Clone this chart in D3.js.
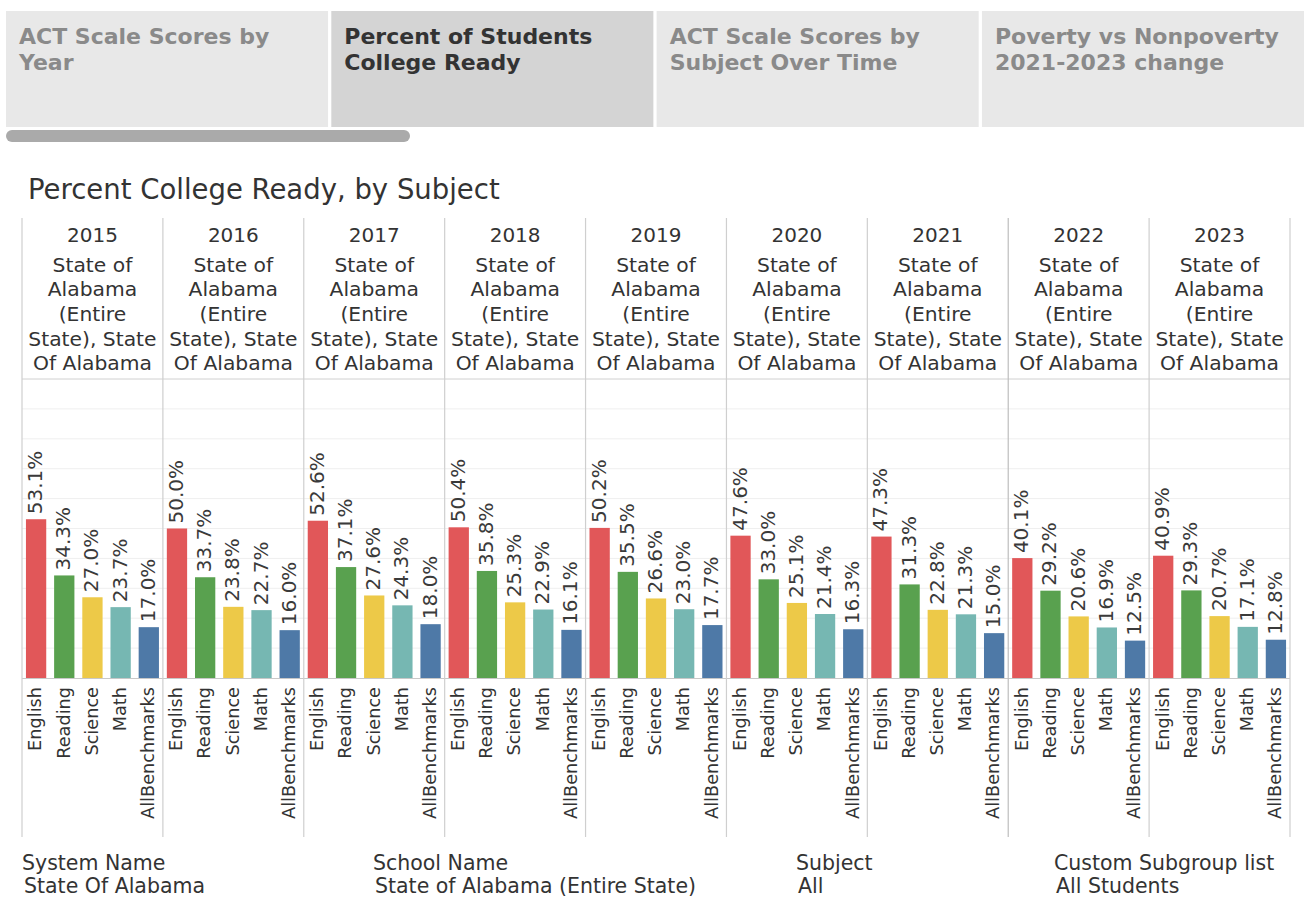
<!DOCTYPE html>
<html>
<head>
<meta charset="utf-8">
<script src="https://cdn.jsdelivr.net/npm/d3@7"></script>
<style>
  html, body { margin: 0; padding: 0; background: #fff; }
  svg { display: block; font-family: "DejaVu Sans", sans-serif; }
</style>
</head>
<body>
<svg id="chart" width="1307" height="899"></svg>
<script>
// ---- data ----
const tabs = ["ACT Scale Scores by\nYear", "Percent of Students\nCollege Ready", "ACT Scale Scores by\nSubject Over Time", "Poverty vs Nonpoverty\n2021-2023 change"];
const activeTab = 1;
const years = ["2015", "2016", "2017", "2018", "2019", "2020", "2021", "2022", "2023"];
const headerLines = ["State of", "Alabama", "(Entire", "State), State", "Of Alabama"];
const subjects = ["English", "Reading", "Science", "Math", "AllBenchmarks"];
const colors = ["#e15759", "#59a14f", "#edc948", "#76b7b2", "#4e79a7"];
const english = [53.1, 50.0, 52.6, 50.4, 50.2, 47.6, 47.3, 40.1, 40.9];
const reading = [34.3, 33.7, 37.1, 35.8, 35.5, 33.0, 31.3, 29.2, 29.3];
const science = [27.0, 23.8, 27.6, 25.3, 26.6, 25.1, 22.8, 20.6, 20.7];
const math = [23.7, 22.7, 24.3, 22.9, 23.0, 21.4, 21.3, 16.9, 17.1];
const allBenchmarks = [17.0, 16.0, 18.0, 16.1, 17.7, 16.3, 15.0, 12.5, 12.8];
const gridTicks = [10, 20, 30, 40, 50, 60, 70, 80, 90];
const filters = [
  ["System Name", "State Of Alabama"],
  ["School Name", "State of Alabama (Entire State)"],
  ["Subject", "All"],
  ["Custom Subgroup list", "All Students"]
];
const title = "Percent College Ready, by Subject";

const series = [english, reading, science, math, allBenchmarks];
const data = [];
years.forEach((y, i) => subjects.forEach((s, j) => data.push({year: y, subject: s, value: series[j][i]})));

// ---- layout ----
const svg = d3.select("#chart");
const left = 22, right = 1290;
const headerTop = 218, plotTop = 379, plotBottom = 678, labelBottom = 837;

// tabs
const tabX = d3.scaleBand().domain(d3.range(tabs.length)).range([6, 6 + 4 * 324.5]).paddingInner(0.01);
const tabG = svg.append("g");
tabs.forEach((t, i) => {
  const g = tabG.append("g").attr("transform", `translate(${tabX(i)},11)`);
  g.append("rect").attr("width", tabX.bandwidth()).attr("height", 116)
    .attr("fill", i === activeTab ? "#d4d4d4" : "#e8e8e8");
  const txt = g.append("text").attr("x", 13).attr("y", 33)
    .attr("font-size", 22).attr("font-weight", "bold")
    .attr("fill", i === activeTab ? "#333" : "#8a8a8a");
  t.split("\n").forEach((line, k) => {
    txt.append("tspan").attr("x", 13).attr("dy", k === 0 ? 0 : 26).text(line);
  });
});
svg.append("rect").attr("x", 6).attr("y", 130).attr("width", 404).attr("height", 12)
  .attr("rx", 6).attr("fill", "#aaaaaa");

// title
svg.append("text").attr("x", 28).attr("y", 199).attr("font-size", 27.5).attr("fill", "#333").text(title);

// scales
const x0 = d3.scaleBand().domain(years).range([left, right]).padding(0);
const x1 = d3.scaleBand().domain(subjects).range([0, x0.bandwidth()]).paddingInner(0.28).paddingOuter(0.14);
const y = d3.scaleLinear().domain([0, 100]).range([plotBottom, plotTop]);
const color = d3.scaleOrdinal().domain(subjects).range(colors);

// gridlines
svg.append("g").selectAll("line").data(gridTicks).join("line")
  .attr("x1", left).attr("x2", right)
  .attr("y1", d => y(d)).attr("y2", d => y(d))
  .attr("stroke", "#efefef").attr("stroke-width", 1);

// header bottom line & baseline
svg.append("line").attr("x1", left).attr("x2", right).attr("y1", plotTop).attr("y2", plotTop)
  .attr("stroke", "#d0d0d0");
svg.append("line").attr("x1", left).attr("x2", right).attr("y1", plotBottom + 0.5).attr("y2", plotBottom + 0.5)
  .attr("stroke", "#c8c8c8");

// vertical separators
const seps = years.map(yr => x0(yr)).concat([right]);
svg.append("g").selectAll("line").data(seps).join("line")
  .attr("x1", d => d).attr("x2", d => d)
  .attr("y1", headerTop).attr("y2", labelBottom)
  .attr("stroke", (d, i) => i === 7 ? "#bdbdbd" : "#cfcfcf").attr("stroke-width", 1.2);

// headers
const hdr = svg.append("g").selectAll("g").data(years).join("g")
  .attr("transform", d => `translate(${x0(d) + x0.bandwidth() / 2},0)`);
hdr.append("text").attr("y", 241.5).attr("text-anchor", "middle").attr("font-size", 20).attr("fill", "#333").text(d => d);
headerLines.forEach((line, k) => {
  hdr.append("text").attr("y", 271.5 + k * 24.7).attr("text-anchor", "middle")
    .attr("font-size", 20.3).attr("fill", "#333").text(line);
});

// bars
const panels = svg.append("g").selectAll("g").data(years).join("g")
  .attr("transform", d => `translate(${x0(d)},0)`);
panels.selectAll("rect").data(yr => data.filter(d => d.year === yr)).join("rect")
  .attr("x", d => x1(d.subject)).attr("width", x1.bandwidth())
  .attr("y", d => y(d.value)).attr("height", d => y(0) - y(d.value))
  .attr("fill", d => color(d.subject));

// value labels
panels.selectAll("text.val").data(yr => data.filter(d => d.year === yr)).join("text")
  .attr("class", "val")
  .attr("transform", d => `translate(${x1(d.subject) + x1.bandwidth() / 2},${y(d.value) - 5}) rotate(-90)`)
  .attr("dy", "0.3em").attr("font-size", 20).attr("fill", "#3a3a3a")
  .text(d => d.value.toFixed(1) + "%");

// subject labels
panels.selectAll("text.sub").data(subjects).join("text")
  .attr("class", "sub")
  .attr("transform", d => `translate(${x1(d) + x1.bandwidth() / 2},${plotBottom + 9}) rotate(-90)`)
  .attr("dy", "0.3em").attr("text-anchor", "end").attr("font-size", 17.7).attr("fill", "#333")
  .text(d => d);

// filters
const fx = [22, 373, 796, 1054];
filters.forEach((f, i) => {
  svg.append("text").attr("x", fx[i]).attr("y", 870).attr("font-size", 20.5).attr("fill", "#333").text(f[0]);
  svg.append("text").attr("x", fx[i] + 2).attr("y", 893).attr("font-size", 20.5).attr("fill", "#333").text(f[1]);
});
</script>
</body>
</html>
